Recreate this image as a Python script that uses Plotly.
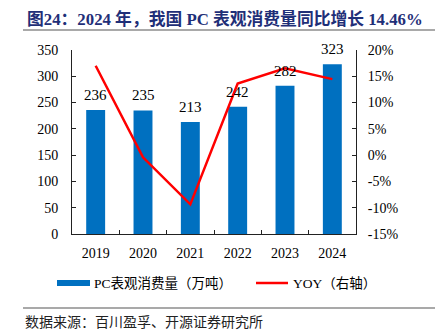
import plotly.graph_objects as go

years = ["2019", "2020", "2021", "2022", "2023", "2024"]
consumption = [236, 235, 213, 242, 282, 323]
yoy = [17.0, -0.42, -9.36, 13.62, 16.53, 14.46]
left_ticks = [0, 50, 100, 150, 200, 250, 300, 350]
right_ticks = [-15, -10, -5, 0, 5, 10, 15, 20]
right_tick_text = [f"{v}%" for v in right_ticks]

W, H = 442, 334
L, R, T, B = 72, 86, 50, 100
PW, PH = W - L - R, H - T - B

def px(x):
    return (x - L) / PW

def py(y):
    return (H - B - y) / PH

SERIF = "Liberation Serif, Times New Roman, Noto Sans CJK SC, serif"
CJK = "Liberation Serif, Noto Sans CJK SC, serif"
BLUE = "#0070C0"

fig = go.Figure()
fig.add_trace(go.Bar(
    x=years, y=consumption, name="PC表观消费量（万吨）",
    marker=dict(color=BLUE, line=dict(width=0)),
    yaxis="y", showlegend=False,
))
fig.add_trace(go.Scatter(
    x=years, y=yoy, name="YOY（右轴）", mode="lines",
    line=dict(color="#FF0000", width=2.5), yaxis="y2", showlegend=False,
    cliponaxis=False,
))

# value labels above bars (category index positions)
for i, v in enumerate(consumption):
    fig.add_annotation(x=i, y=v, xref="x", yref="y", text=str(v),
                       showarrow=False, yanchor="bottom", yshift=5,
                       font=dict(family=SERIF, size=15, color="#000"))

fig.update_layout(
    width=W, height=H, margin=dict(l=L, r=R, t=T, b=B),
    paper_bgcolor="white", plot_bgcolor="white",
    bargap=0.6,
    font=dict(family=SERIF, size=13, color="#000"),
    xaxis=dict(type="category", categoryorder="array", categoryarray=years,
               range=[-0.5, len(years) - 0.5],
               showline=True, linecolor="#222", linewidth=1,
               ticks="inside", tickson="boundaries", ticklen=4, tickcolor="#222",
               showgrid=False, tickfont=dict(family=SERIF, size=14),
               ticklabelstandoff=6),
    yaxis=dict(range=[0, 350], tickvals=left_ticks, showline=True, linecolor="#222",
               linewidth=1, ticks="inside", ticklen=4, tickcolor="#222",
               showgrid=False, zeroline=False, tickfont=dict(family=SERIF, size=14),
               ticklabelstandoff=10),
    yaxis2=dict(range=[-15, 20], tickvals=right_ticks, ticktext=right_tick_text,
                overlaying="y", side="right", showline=True, linecolor="#222",
                linewidth=1, ticks="inside", ticklen=4, tickcolor="#222",
                showgrid=False, zeroline=False, tickfont=dict(family=SERIF, size=14),
                ticklabelstandoff=8),
    showlegend=False,
)

# title
fig.add_annotation(
    text="<b>图24：2024 年，我国 PC 表观消费量同比增长 14.46%</b>",
    xref="paper", yref="paper", x=px(25), y=py(19), xanchor="left", yanchor="middle",
    showarrow=False, font=dict(family=CJK, size=16.8, color="#1F2F78"),
)
# rules
for yy in (30, 308):
    fig.add_shape(type="line", xref="paper", yref="paper",
                  x0=px(23), x1=px(435), y0=py(yy), y1=py(yy),
                  line=dict(color="#555", width=1.2))

# custom legend
fig.add_shape(type="rect", xref="paper", yref="paper",
              x0=px(57), x1=px(90), y0=py(286), y1=py(280),
              fillcolor=BLUE, line=dict(width=0))
fig.add_annotation(text="PC表观消费量（万吨）", xref="paper", yref="paper",
                   x=px(92), y=py(283), xanchor="left", yanchor="middle",
                   showarrow=False, font=dict(family=CJK, size=13.5, color="#000"))
fig.add_shape(type="line", xref="paper", yref="paper",
              x0=px(256), x1=px(288), y0=py(283), y1=py(283),
              line=dict(color="#FF0000", width=2.5))
fig.add_annotation(text="YOY（右轴）", xref="paper", yref="paper",
                   x=px(291), y=py(283), xanchor="left", yanchor="middle",
                   showarrow=False, font=dict(family=CJK, size=13.5, color="#000"))

# source
fig.add_annotation(text="数据来源：百川盈孚、开源证券研究所", xref="paper", yref="paper",
                   x=px(23), y=py(321), xanchor="left", yanchor="middle",
                   showarrow=False, font=dict(family="Noto Sans CJK SC, sans-serif", size=14, color="#222"))

fig.write_html("out.html")
